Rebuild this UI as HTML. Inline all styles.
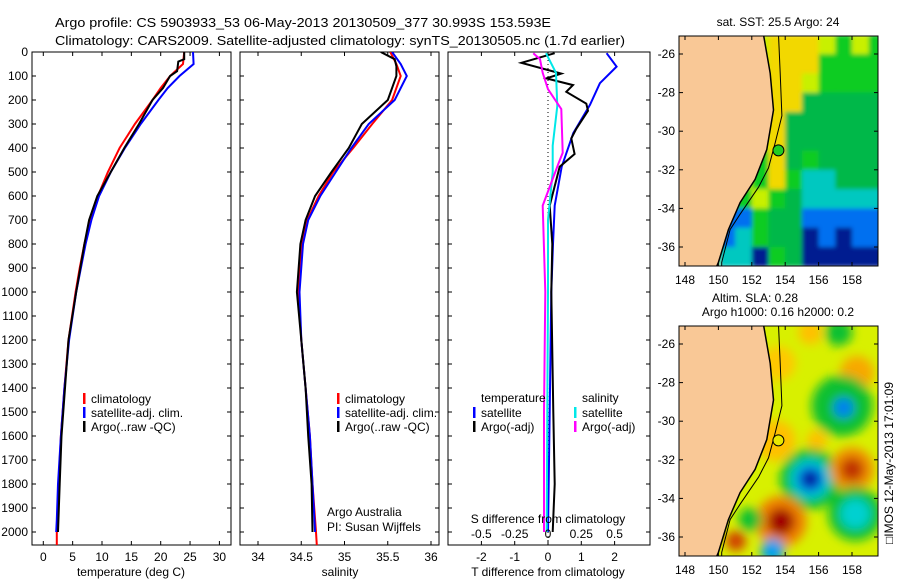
<!DOCTYPE html>
<html><head><meta charset="utf-8">
<style>
html,body{margin:0;padding:0;background:#fff;}
svg{display:block;font-family:"Liberation Sans",sans-serif;}
text{fill:#000;}
</style></head>
<body>
<svg id="fig" width="900" height="580" viewBox="0 0 900 580" xmlns="http://www.w3.org/2000/svg">
<defs>
<clipPath id="clipTop"><rect x="679" y="36" width="199" height="230"/></clipPath>
<clipPath id="clipBot"><rect x="679" y="326" width="199" height="230"/></clipPath>
<clipPath id="clipP1"><rect x="32" y="52" width="199" height="493"/></clipPath>
<clipPath id="clipP2"><rect x="240" y="52" width="199" height="493"/></clipPath>
<clipPath id="clipP3"><rect x="448" y="52" width="202" height="493"/></clipPath>
<filter id="blur" x="-20%" y="-20%" width="140%" height="140%"><feGaussianBlur stdDeviation="5"/></filter>
<filter id="blur2" x="-5%" y="-5%" width="110%" height="110%"><feGaussianBlur stdDeviation="2"/></filter>
</defs>
<text x="55" y="27" font-size="13" textLength="496" lengthAdjust="spacingAndGlyphs">Argo profile: CS 5903933_53 06-May-2013 20130509_377 30.993S 153.593E</text>
<text x="55" y="45" font-size="13" textLength="570" lengthAdjust="spacingAndGlyphs">Climatology: CARS2009. Satellite-adjusted climatology: synTS_20130505.nc (1.7d earlier)</text>
<g id="g1"></g>
<g id="g2"></g>
<g id="g3"></g>
<g id="gm1"></g>
<g id="gm2"></g>
<text transform="translate(893,463) rotate(-90)" font-size="12" text-anchor="middle">□IMOS 12-May-2013 17:01:09</text>
</svg>
<script>
// ---------- data ----------
const depthClimT = [0,50,100,150,200,300,400,500,600,700,800,900,1000,1200,1400,1600,1800,2000,2054];
const tempClim   = [24,23.8,21.6,20,18.6,15.6,13,11,9.3,8,7,6.2,5.5,4.3,3.6,3,2.6,2.3,2.3];
const depthSatT  = [0,50,100,150,200,300,400,500,600,700,800,1000,1200,1400,1600,1800,1950,2000];
const tempSat    = [25.5,25.6,23.2,21.2,19.6,16.6,13.9,11.5,9.5,8.2,7.2,5.6,4.4,3.6,3,2.5,2.3,2.2];
const depthArgoT = [0,30,40,80,100,150,200,300,400,500,600,700,800,1000,1200,1400,1600,1800,2000];
const tempArgo   = [24,24,23,22.8,21.6,20.4,18.6,16.3,13.8,11.5,9.2,7.8,7.0,5.6,4.3,3.7,3.1,2.8,2.5];

const depthClimS = [0,50,100,200,300,400,500,600,700,800,1000,1200,1400,1600,1800,2000,2054];
const salClim    = [35.53,35.6,35.65,35.55,35.32,35.1,34.87,34.7,34.57,34.5,34.47,34.5,34.55,34.6,34.63,34.67,34.68];
const depthSatS  = [0,50,100,200,300,400,500,600,700,800,1000,1200,1400,1600,1800,2000];
const salSat     = [35.55,35.65,35.72,35.58,35.28,35.08,34.9,34.72,34.58,34.52,34.48,34.5,34.55,34.6,34.63,34.66];
const depthArgoS = [0,30,60,100,200,300,400,500,600,700,800,1000,1200,1400,1600,1800,2000];
const salArgo    = [35.42,35.58,35.6,35.6,35.5,35.2,35.05,34.85,34.66,34.55,34.49,34.45,34.5,34.55,34.58,34.62,34.63];

const depthDiffSatT  = [5,61,130,220,338,478,640,800,1000,1500,2000];
const diffSatT       = [1.76,2.06,1.56,1.26,0.76,0.41,0.2,0.15,0.1,0.05,0.0];
const depthDiffArgoT = [5,45,90,110,138,166,215,245,320,360,425,478,640,800,1000,1500,1800,2000];
const diffArgoT      = [0.2,-0.8,0.4,-0.05,0.75,0.55,1.15,1.2,0.85,0.7,0.8,0.35,0.05,0.13,0.1,0.16,0.2,0.14];
const depthDiffSatS  = [5,87,225,390,500,700,1000,1500,2000];
const diffSatS       = [-0.015,0.06,0.07,0.035,0.035,0.0,0.0,-0.005,-0.01];
const depthDiffArgoS = [5,30,87,155,238,420,462,640,1000,1500,2000];
const diffArgoS      = [-0.11,-0.06,-0.04,0,0.1,0.11,0.08,-0.04,-0.02,-0.03,-0.03];

const depthTicks = [0,100,200,300,400,500,600,700,800,900,1000,1100,1200,1300,1400,1500,1600,1700,1800,1900,2000];
const tempTicks = [0,5,10,15,20,25,30];
const salTicks = [34,34.5,35,35.5,36];
const salTickLabels = ["34","34.5","35","35.5","36"];
const tDiffTicks = [-2,-1,0,1,2];
const sDiffTicks = [-0.5,-0.25,0,0.25,0.5];
const sDiffLabels = ["-0.5","-0.25","0","0.25","0.5"];
const lonTicks = [148,150,152,154,156,158];
const latTicks = [-26,-28,-30,-32,-34,-36];

// SST grid: rows lat -25..-37 (1 deg), cols lon 147..159
const sstRows = [
 "LLLLLLYYYLGLG",
 "LLLLLLYYYGGGG",
 "LLLLLLYYLGGGG",
 "LLLLLLYYDDDDD",
 "LLLLLLYDDDDDD",
 "LLLLLLYDDDDDD",
 "LLLLLGYDGDDDD",
 "LLLLLGYGCCDDD",
 "LLLLGLGDCCCCC",
 "LLLBBGDDBBBBB",
 "LLLBCGDDNBNBB",
 "LLLCCNGDNNNNN"];
const sstColors = {Y:"#f2d800",L:"#c8f000",G:"#10cc20",D:"#00b848",C:"#00c8c0",B:"#0070f0",N:"#001c90"};
// SLA blobs: lon, lat, radius(deg), colour
const slaLon = [153.4,153.6,155.5,157.2,158.3,157.4,157.5,155.9,155.5,155.5,155.5,155.5,153.75,153.75,158.0,158.0,158.2,158.2,151.9,151.05,153.25,152.5];
const slaLat = [-31,-27,-25.4,-25.4,-27.5,-29.2,-29.3,-31.0,-33.0,-33.0,-33.0,-33.0,-35.2,-35.2,-32.5,-32.5,-34.8,-34.8,-35.1,-36.2,-36.7,-28];
const slaRad = [1.2,1.0,0.7,0.8,1.0,1.8,0.6,0.6,1.8,1.2,0.75,0.4,1.5,0.8,1.3,0.7,1.6,0.9,0.7,0.6,0.7,0.8];
const slaCol = ["#ffc000","#ffc800","#ffc000","#10c030","#f8a800","#10c030","#0080f0","#ffc000","#10c030","#00c8d0","#0050e0","#000c80","#f08000","#a00000","#f09000","#c03000","#10c030","#00d0d0","#10c030","#d04000","#00a0f0","#e8e000"];

const coastLon = [152.7,153.1,153.3,152.9,152.2,151.3,150.6,150.0,149.9];
const coastLat = [-25.0,-27.0,-28.9,-30.95,-32.5,-33.7,-35.1,-36.8,-37.0];
const contLon = [153.6,153.7,153.8,153.4,153.0,152.4,151.3,150.7,150.2,150.2];
const contLat = [-25.0,-27.0,-29.2,-30.6,-31.9,-32.9,-34.3,-35.1,-36.8,-37.0];
const argoLon = 153.593, argoLat = -30.993;

// ---------- helpers ----------
const NS="http://www.w3.org/2000/svg";
function mk(parent,tag,attrs,txt){const e=document.createElementNS(NS,tag);for(const k in attrs)e.setAttribute(k,attrs[k]);if(txt!==undefined)e.textContent=txt;parent.appendChild(e);return e;}
const yD = d => 52 + 0.24*d;
const xT = t => 43.3 + 5.87*t;
const xS = s => 258 + 86.5*(s-34);
const xTd = t => 548 + 33.3*t;
const xSd = s => 548 + 133.2*s;
const mX = lon => 685 + (lon-148)*16.7;
const mYt = lat => 54 + (-26-lat)*19.3;
const mYb = lat => 344 + (-26-lat)*19.3;

function profile(g,depths,vals,xf,col,clip,name){
  let d="";
  for(let i=0;i<depths.length;i++){d+=(i?"L":"M")+xf(vals[i]).toFixed(1)+","+yD(depths[i]).toFixed(1);}
  const p=mk(g,"path",{d:d,fill:"none",stroke:col,"stroke-width":2,"clip-path":"url(#"+clip+")"});
  
  
}
function box(g,x,y,w,h){const r=mk(g,"rect",{x:x,y:y,width:w,height:h,fill:"none",stroke:"#000","stroke-width":1});
  
  }
function xticks(g,ticks,labels,xf,yTop,yBot,labY){
  ticks.forEach((t,i)=>{const x=xf(t);
    mk(g,"line",{x1:x,y1:yTop,x2:x,y2:yTop+4,stroke:"#000"});
    mk(g,"line",{x1:x,y1:yBot,x2:x,y2:yBot-4,stroke:"#000"});
    if(labY){const tx=mk(g,"text",{x:x,y:labY,"font-size":12,"text-anchor":"middle"},labels[i]);
      
      }
  });
}
function yticks(g,x0,x1,withLabels){
  depthTicks.forEach(d=>{const y=yD(d);
    mk(g,"line",{x1:x0,y1:y,x2:x0+4,y2:y,stroke:"#000"});
    mk(g,"line",{x1:x1,y1:y,x2:x1-4,y2:y,stroke:"#000"});
    if(withLabels){const t=mk(g,"text",{x:28,y:y+4,"font-size":12,"text-anchor":"end"},String(d));
      
      }
  });
}
function legend(g,x,y,col,label){
  mk(g,"rect",{x:x,y:y-9,width:2.5,height:11,fill:col});
  const t=mk(g,"text",{x:x+8,y:y+1,"font-size":12},label);
  
  
}

// ---------- panel 1 ----------
const g1=document.getElementById("g1");
box(g1,32,52,199,493);
yticks(g1,32,231,true);
xticks(g1,tempTicks,tempTicks.map(String),xT,52,545,561);
profile(g1,depthClimT,tempClim,xT,"#ff0000","clipP1","temp-climatology-line");
profile(g1,depthSatT,tempSat,xT,"#0000ff","clipP1","temp-satellite-line");
profile(g1,depthArgoT,tempArgo,xT,"#000000","clipP1","temp-argo-line");
legend(g1,83,402,"#ff0000","climatology");
legend(g1,83,416,"#0000ff","satellite-adj. clim.");
legend(g1,83,430,"#000000","Argo(..raw -QC)");
let t=mk(g1,"text",{x:131,y:576,"font-size":12,"text-anchor":"middle"},"temperature (deg C)");


// ---------- panel 2 ----------
const g2=document.getElementById("g2");
box(g2,240,52,199,493);
yticks(g2,240,439,false);
xticks(g2,salTicks,salTickLabels,xS,52,545,561);
profile(g2,depthClimS,salClim,xS,"#ff0000","clipP2","sal-climatology-line");
profile(g2,depthSatS,salSat,xS,"#0000ff","clipP2","sal-satellite-line");
profile(g2,depthArgoS,salArgo,xS,"#000000","clipP2","sal-argo-line");
legend(g2,337,402,"#ff0000","climatology");
legend(g2,337,416,"#0000ff","satellite-adj. clim.");
legend(g2,337,430,"#000000","Argo(..raw -QC)");
t=mk(g2,"text",{x:327,y:516,"font-size":12},"Argo Australia");
t=mk(g2,"text",{x:327,y:531,"font-size":12},"PI: Susan Wijffels");
t=mk(g2,"text",{x:340,y:576,"font-size":12,"text-anchor":"middle"},"salinity");

// ---------- panel 3 ----------
const g3=document.getElementById("g3");
box(g3,448,52,202,493);
yticks(g3,448,650,false);
xticks(g3,tDiffTicks,tDiffTicks.map(String),xTd,52,545,561);
mk(g3,"line",{x1:548,y1:52,x2:548,y2:545,stroke:"#000","stroke-dasharray":"1,3"});
profile(g3,depthDiffSatT,diffSatT,xTd,"#0000ff","clipP3","tdiff-satellite-line");
profile(g3,depthDiffArgoT,diffArgoT,xTd,"#000000","clipP3","tdiff-argo-line");
profile(g3,depthDiffSatS,diffSatS,xSd,"#00e8e8","clipP3","sdiff-satellite-line");
profile(g3,depthDiffArgoS,diffArgoS,xSd,"#ff00ff","clipP3","sdiff-argo-line");
t=mk(g3,"text",{x:481,y:402,"font-size":12},"temperature");
t=mk(g3,"text",{x:582,y:402,"font-size":12},"salinity");
legend(g3,473,416,"#0000ff","satellite");
legend(g3,473,430,"#000000","Argo(-adj)");
legend(g3,574,416,"#00e8e8","satellite");
legend(g3,574,430,"#ff00ff","Argo(-adj)");
t=mk(g3,"text",{x:548,y:523,"font-size":12,"text-anchor":"middle"},"S difference from climatology");
sDiffTicks.forEach((s,i)=>{const tt=mk(g3,"text",{x:xSd(s),y:538,"font-size":12,"text-anchor":"middle"},sDiffLabels[i]);
  
  });
t=mk(g3,"text",{x:548,y:576,"font-size":12,"text-anchor":"middle"},"T difference from climatology");

// ---------- maps ----------
function landAndCoast(g,yf,clip){
  let d="M"+mX(147)+","+yf(-24.5);
  for(let i=0;i<coastLon.length;i++)d+="L"+mX(coastLon[i]).toFixed(1)+","+yf(coastLat[i]).toFixed(1);
  d+="L"+mX(147)+","+yf(-38)+"Z";
  const land=mk(g,"path",{d:d,fill:"#f9c896",stroke:"#000","stroke-width":1.5,"clip-path":"url(#"+clip+")"});
  
  
  let c="";
  for(let i=0;i<contLon.length;i++)c+=(i?"L":"M")+mX(contLon[i]).toFixed(1)+","+yf(contLat[i]).toFixed(1);
  const cl=mk(g,"path",{d:c,fill:"none",stroke:"#000","stroke-width":1,"clip-path":"url(#"+clip+")"});
  
  
}
function mapAxes(g,yf,top){
  mk(g,"rect",{x:679,y:top,width:199,height:230,fill:"none",stroke:"#000"});
  lonTicks.forEach(l=>{const x=mX(l);
    mk(g,"line",{x1:x,y1:top,x2:x,y2:top+4,stroke:"#000"});
    mk(g,"line",{x1:x,y1:top+230,x2:x,y2:top+226,stroke:"#000"});
    const tt=mk(g,"text",{x:x,y:top+248,"font-size":12,"text-anchor":"middle"},String(l));
    
    });
  latTicks.forEach(l=>{const y=yf(l);
    mk(g,"line",{x1:679,y1:y,x2:683,y2:y,stroke:"#000"});
    mk(g,"line",{x1:878,y1:y,x2:874,y2:y,stroke:"#000"});
    const tt=mk(g,"text",{x:675,y:y+4,"font-size":12,"text-anchor":"end"},String(l));
    
    });
}
// SST map
const gm1=document.getElementById("gm1");
const cellsClip=mk(gm1,"g",{"clip-path":"url(#clipTop)"});
const cells=mk(cellsClip,"g",{filter:"url(#blur2)"});
sstRows.forEach((row,r)=>{for(let c=0;c<row.length;c++){
  const lon=147+c, lat=-25-r;
  const cell=mk(cells,"rect",{x:mX(lon).toFixed(1),y:mYt(lat).toFixed(1),width:17.2,height:19.8,fill:sstColors[row[c]]});
  
  
}});
landAndCoast(gm1,mYt,"clipTop");
let dot=mk(gm1,"circle",{cx:mX(argoLon),cy:mYt(argoLat),r:5.5,fill:"#22cc22",stroke:"#000"});

mapAxes(gm1,mYt,36);
t=mk(gm1,"text",{x:778,y:26,"font-size":12,"text-anchor":"middle"},"sat. SST: 25.5 Argo: 24");

// SLA map
const gm2=document.getElementById("gm2");
const cl2=mk(gm2,"g",{"clip-path":"url(#clipBot)"});
mk(cl2,"rect",{x:679,y:326,width:199,height:230,fill:"#d8f000"});
const blobs=mk(cl2,"g",{filter:"url(#blur)"});
slaLon.forEach((lon,i)=>{
  const b=mk(blobs,"circle",{cx:mX(lon).toFixed(1),cy:mYb(slaLat[i]).toFixed(1),r:(slaRad[i]*17).toFixed(1),fill:slaCol[i]});
  
  
});
landAndCoast(gm2,mYb,"clipBot");
dot=mk(gm2,"circle",{cx:mX(argoLon),cy:mYb(argoLat),r:5.5,fill:"#e8e800",stroke:"#000"});

mapAxes(gm2,mYb,326);
t=mk(gm2,"text",{x:755,y:302,"font-size":12,"text-anchor":"middle"},"Altim. SLA: 0.28");
t=mk(gm2,"text",{x:778,y:316,"font-size":12,"text-anchor":"middle"},"Argo h1000: 0.16 h2000: 0.2");
</script>
</body></html>
